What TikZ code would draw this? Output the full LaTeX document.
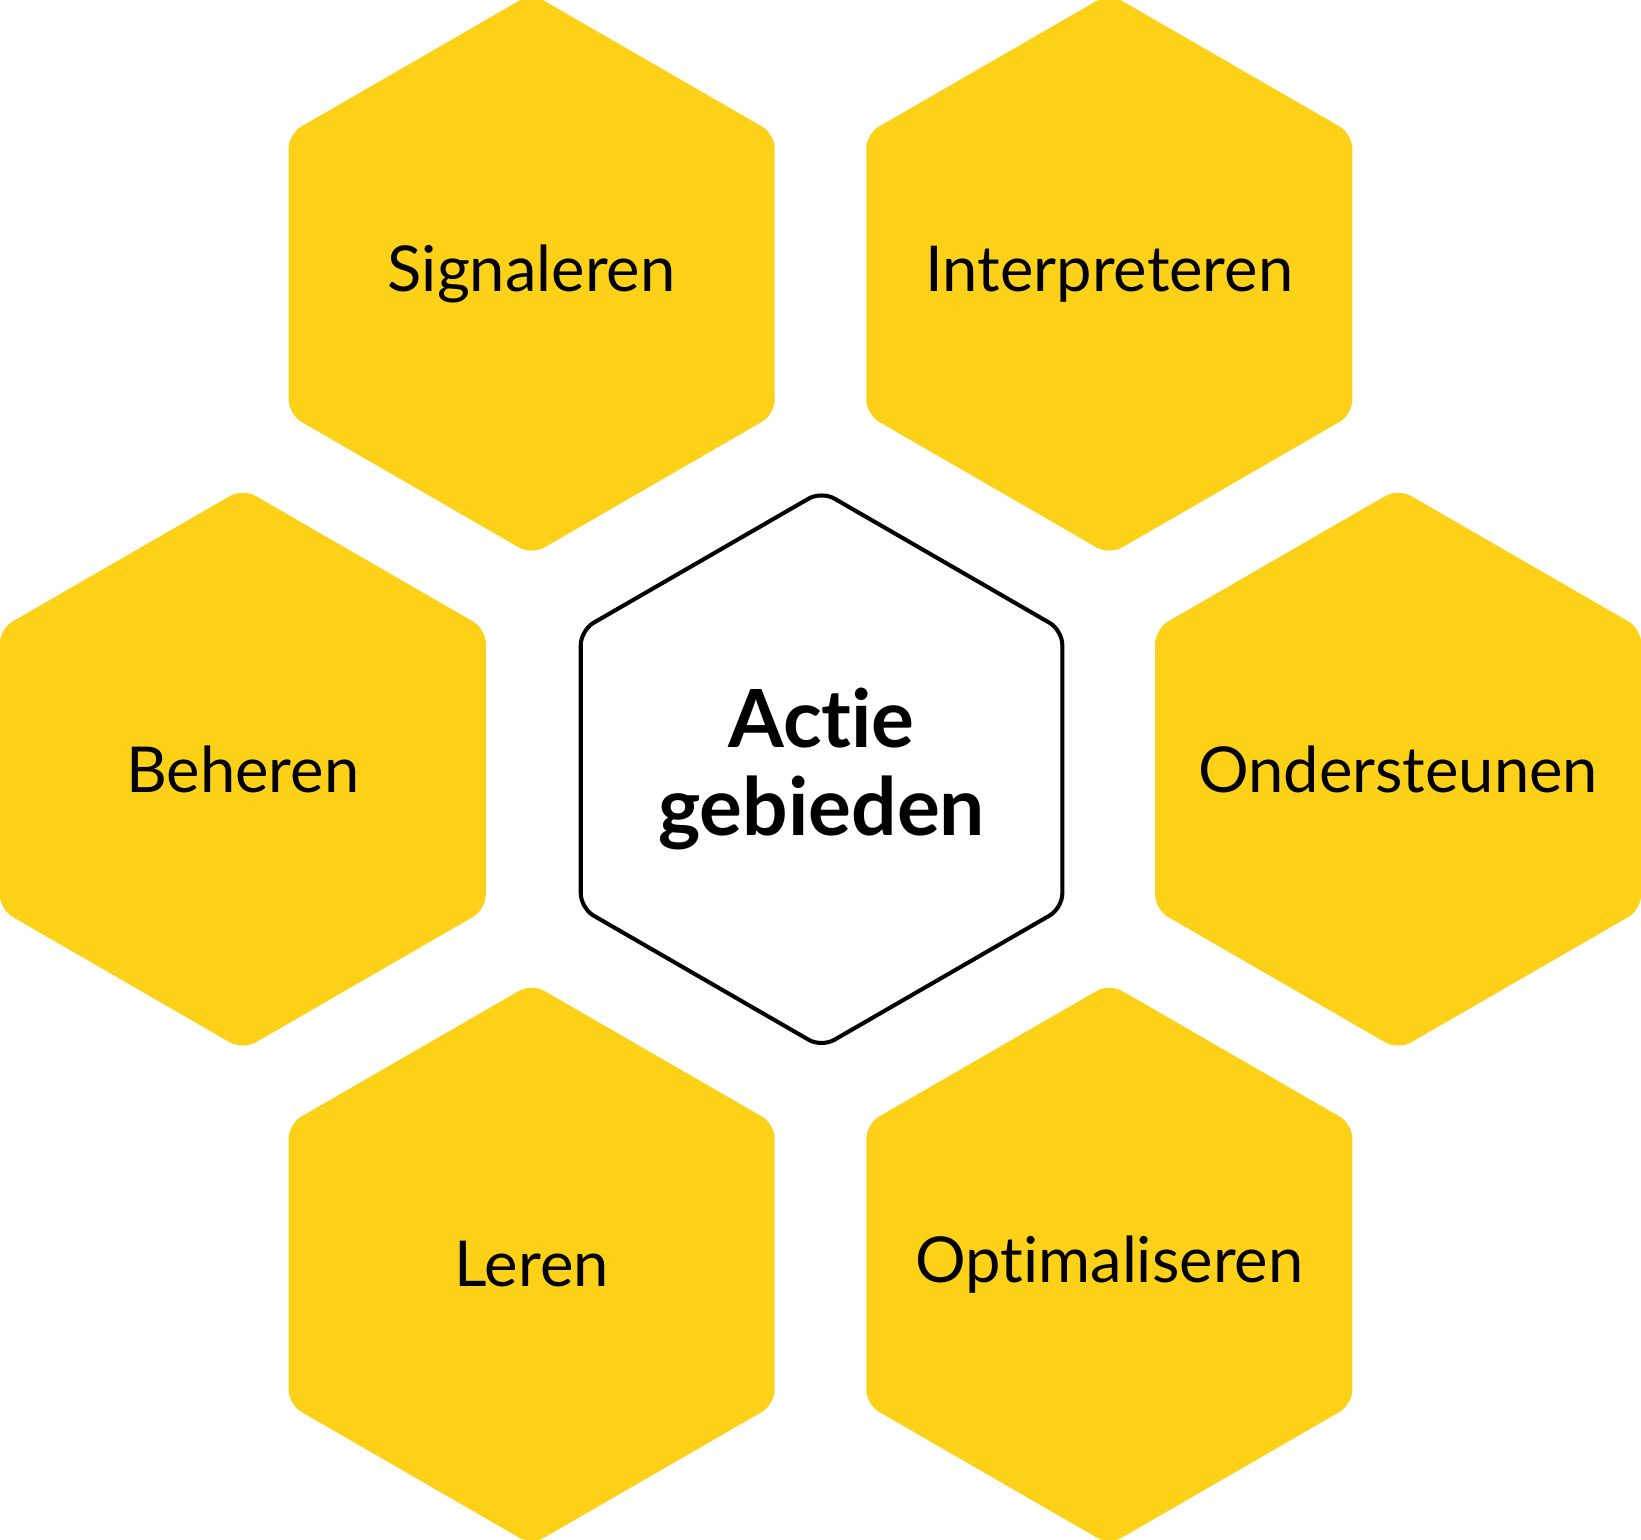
\documentclass[tikz,border=0pt]{standalone}
\usepackage{fontspec}
\setmainfont{Lato}[Ligatures=NoCommon]
\usetikzlibrary{shapes.geometric}
\definecolor{honey}{RGB}{253,209,23}
\tikzset{
  cell/.style={regular polygon, regular polygon sides=6, shape border rotate=30,
    minimum size=5.36cm, inner sep=0pt, rounded corners=0.14cm},
  task/.style={cell, fill=honey},
  core/.style={cell, minimum size=5.31cm, draw=black, fill=white, line width=1.1pt},
  taskname/.style={font=\fontsize{17.2}{21}\selectfont},
  corename/.style={align=center, font=\fontsize{21.8}{24}\selectfont\bfseries}
}
\begin{document}
\begin{tikzpicture}[x=0.01cm,y=-0.01cm]
  \useasboundingbox(0,0)rectangle(1568,1471);
  \node[core](act) at (785,735){};
  \foreach \n/\p in {sig/{508,262},int/{1060,262},beh/{232,735},
    ond/{1336,735},ler/{508,1208},opt/{1060,1208}}
    \node[task](\n) at (\p){};
  \node[corename](acttxt) at (act){Actie\\gebieden};
  \node[taskname](sigtxt) at (sig){Signaleren};
  \node[taskname](inttxt) at (int){Interpreteren};
  \node[taskname](behtxt) at (beh){Beheren};
  \node[taskname](ondtxt) at (ond){Ondersteunen};
  \node[taskname](lertxt) at (ler){Leren};
  \node[taskname](opttxt) at (opt){Optimaliseren};
\end{tikzpicture}
\end{document}
